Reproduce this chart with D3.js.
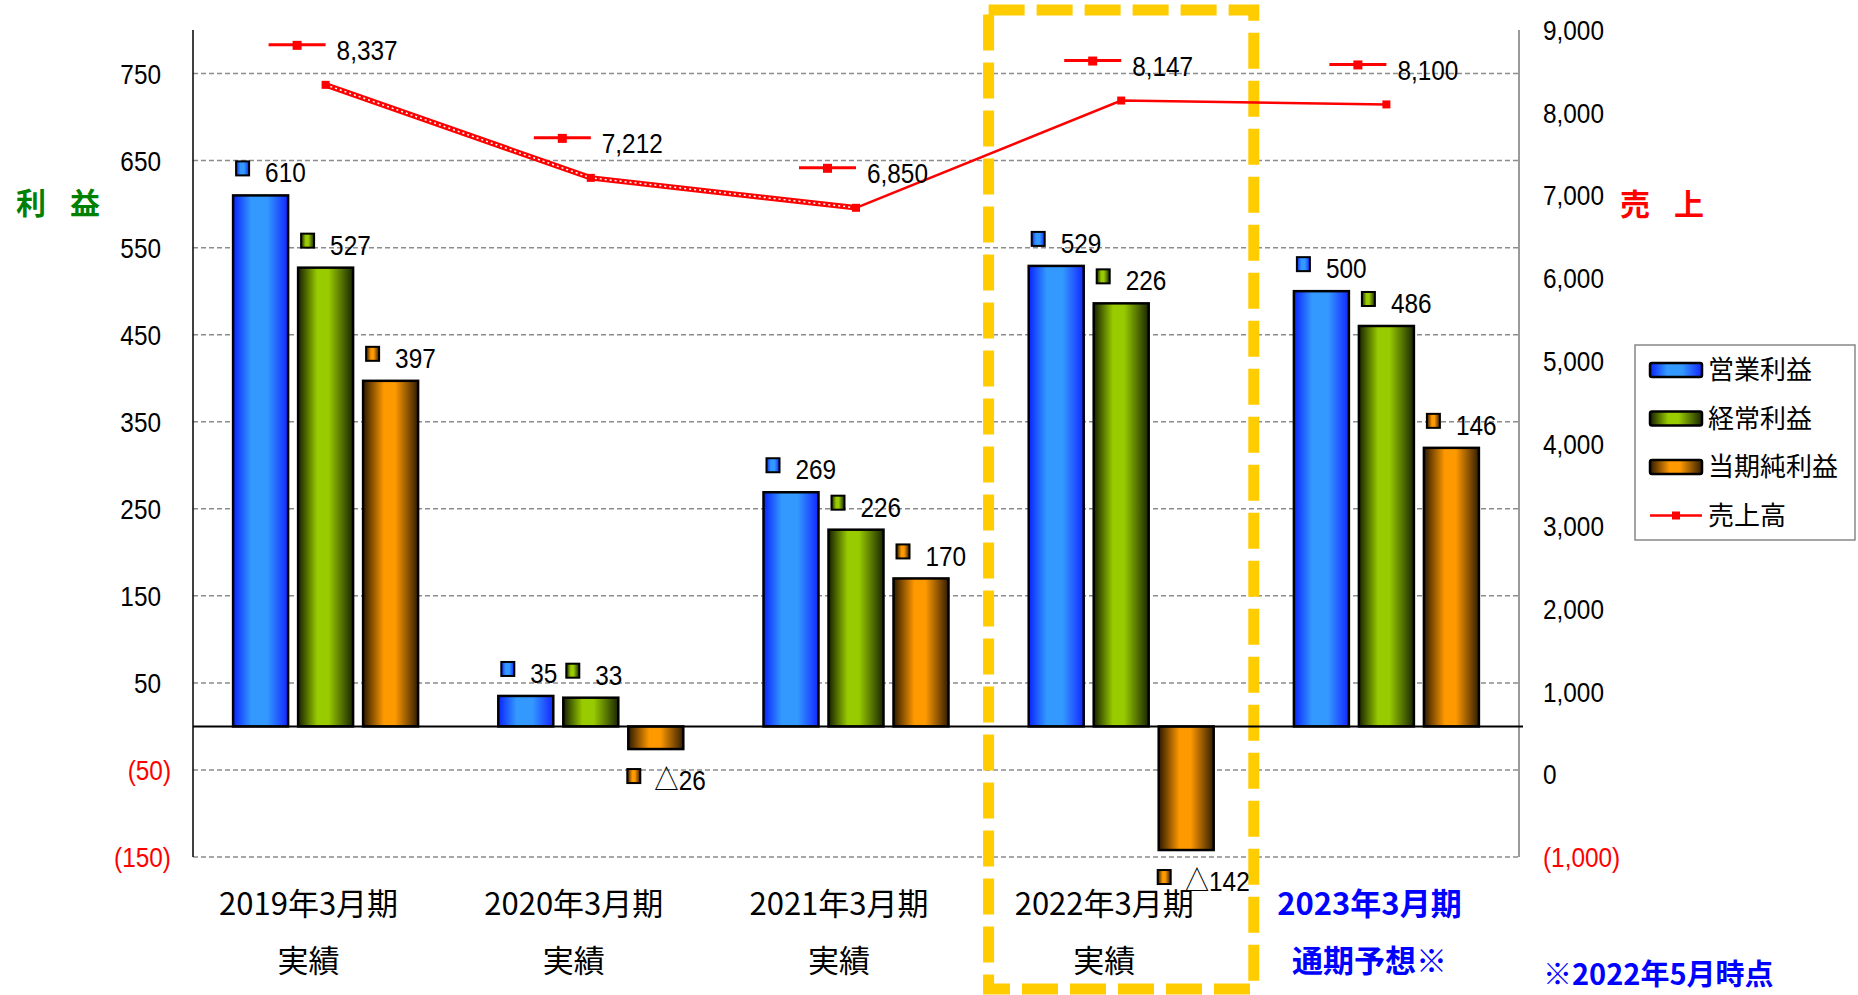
<!DOCTYPE html>
<html>
<head>
<meta charset="utf-8">
<script src="https://cdn.jsdelivr.net/npm/d3@7"></script>
<style>
  body { margin: 0; background: #fff; }
  text { font-family: "Liberation Sans", "Noto Sans CJK JP", sans-serif; }
  .jp { font-family: "Noto Sans CJK JP", sans-serif; }
</style>
</head>
<body>
<svg id="chart" width="1858" height="995"></svg>
<script>
const periods = ["2019年3月期", "2020年3月期", "2021年3月期", "2022年3月期", "2023年3月期"];
const periodNotes = ["実績", "実績", "実績", "実績", "通期予想※"];

// bars (left axis, 利益)
const operatingProfit = [610, 35, 269, 529, 500];
const ordinaryProfit = [527, 33, 226, 486, 460];
const netProfit = [397, -26, 170, -142, 320];
// labels as printed on the chart
const operatingLabels = ["610", "35", "269", "529", "500"];
const ordinaryLabels = ["527", "33", "226", "226", "486"];
const netLabels = ["397", "△26", "170", "△142", "146"];

// line (right axis, 売上)
const sales = [8337, 7212, 6850, 8147, 8100];
const salesLabels = ["8,337", "7,212", "6,850", "8,147", "8,100"];

const profitTicks = [-150, -50, 50, 150, 250, 350, 450, 550, 650, 750];
const salesTicks = [-1000, 0, 1000, 2000, 3000, 4000, 5000, 6000, 7000, 8000, 9000];
const seriesNames = ["営業利益", "経常利益", "当期純利益", "売上高"];

const svg = d3.select("#chart");

const x = d3.scaleBand().domain(periods).range([193, 1519]);
const sub = d3.scaleBand().domain([0, 1, 2]).range([-92.5, 92.5]).paddingInner(10 / 65);
const yL = d3.scaleLinear().domain([-150, 800]).range([857, 30]);
const yR = d3.scaleLinear().domain([-1000, 9000]).range([857, 30]);

const numSize = 28;

// gradients for the bars
const defs = svg.append("defs");
const grads = [
  { id: "gBlue", stops: [[0, "#0a24ff"], [0.33, "#3399ff"], [0.62, "#3399ff"], [1, "#1426ff"]] },
  { id: "gGreen", stops: [[0, "#162000"], [0.35, "#99cc00"], [0.55, "#99cc00"], [1, "#1a2600"]] },
  { id: "gOrange", stops: [[0, "#2e1900"], [0.38, "#ff9900"], [0.58, "#ff9900"], [1, "#331d00"]] }
];
grads.forEach(function(g) {
  const lg = defs.append("linearGradient")
    .attr("id", g.id)
    .attr("x1", 0).attr("x2", 1).attr("y1", 0).attr("y2", 0);
  g.stops.forEach(function(s) {
    lg.append("stop").attr("offset", s[0]).attr("stop-color", s[1]);
  });
});

// gridlines
svg.append("g")
  .selectAll("line")
  .data(profitTicks)
  .join("line")
  .attr("x1", 193)
  .attr("x2", 1519)
  .attr("y1", function(d) { return yL(d); })
  .attr("y2", function(d) { return yL(d); })
  .attr("stroke", "#8c8c8c")
  .attr("stroke-width", 1.5)
  .attr("stroke-dasharray", "5 3");

// axes lines
svg.append("line")
  .attr("x1", 193).attr("x2", 193)
  .attr("y1", 30).attr("y2", 857)
  .attr("stroke", "#000").attr("stroke-width", 1.5);
svg.append("line")
  .attr("x1", 1519).attr("x2", 1519)
  .attr("y1", 30).attr("y2", 857)
  .attr("stroke", "#9a9a9a").attr("stroke-width", 2);

// left tick labels
svg.append("g")
  .selectAll("text")
  .data(profitTicks)
  .join("text")
  .attr("class", "num")
  .attr("x", function(d) { return d < 0 ? 171 : 161; })
  .attr("y", function(d) { return yL(d); })
  .attr("dy", "0.36em")
  .attr("text-anchor", "end")
  .attr("font-size", numSize)
  .attr("fill", function(d) { return d < 0 ? "#ff0000" : "#000"; })
  .text(function(d) { return d < 0 ? "(" + (-d) + ")" : d; });

// right tick labels
const fmt = d3.format(",");
svg.append("g")
  .selectAll("text")
  .data(salesTicks)
  .join("text")
  .attr("class", "num")
  .attr("x", 1543)
  .attr("y", function(d) { return yR(d); })
  .attr("dy", "0.36em")
  .attr("font-size", numSize)
  .attr("fill", function(d) { return d < 0 ? "#ff0000" : "#000"; })
  .text(function(d) { return d < 0 ? "(" + fmt(-d) + ")" : fmt(d); });

// axis titles
svg.append("text")
  .attr("class", "jp")
  .attr("x", 16).attr("y", 203).attr("dy", "0.36em")
  .attr("font-size", 30).attr("font-weight", "bold")
  .attr("letter-spacing", 24)
  .attr("fill", "#008000")
  .text("利益");
svg.append("text")
  .attr("class", "jp")
  .attr("x", 1620).attr("y", 204).attr("dy", "0.36em")
  .attr("font-size", 30).attr("font-weight", "bold")
  .attr("letter-spacing", 24)
  .attr("fill", "#ff0000")
  .text("売上");

// yellow dashed frame around 2022
svg.append("rect")
  .attr("x", x(periods[3]))
  .attr("y", 10)
  .attr("width", x.bandwidth())
  .attr("height", 979)
  .attr("fill", "none")
  .attr("stroke", "#ffcc00")
  .attr("stroke-width", 11)
  .attr("stroke-dasharray", "36 12");

// bars
const series = [
  { values: operatingProfit, labels: operatingLabels, fill: "url(#gBlue)" },
  { values: ordinaryProfit, labels: ordinaryLabels, fill: "url(#gGreen)" },
  { values: netProfit, labels: netLabels, fill: "url(#gOrange)" }
];

function barLeft(i, s) {
  return x(periods[i]) + x.bandwidth() / 2 + sub(s);
}

series.forEach(function(ser, s) {
  const g = svg.append("g");
  g.selectAll("rect")
    .data(ser.values)
    .join("rect")
    .attr("x", function(d, i) { return barLeft(i, s); })
    .attr("width", sub.bandwidth())
    .attr("y", function(d) { return yL(Math.max(0, d)); })
    .attr("height", function(d) { return Math.abs(yL(d) - yL(0)); })
    .attr("fill", ser.fill)
    .attr("stroke", "#000")
    .attr("stroke-width", 2.5);

  // little key squares + value text
  const lab = svg.append("g")
    .selectAll("g")
    .data(ser.values)
    .join("g")
    .attr("transform", function(d, i) {
      const bx = barLeft(i, s);
      const ty = d >= 0 ? yL(d) - 34 : yL(d) + 20;
      return `translate(${d >= 0 ? bx + 3 : bx - 1},${ty})`;
    });
  lab.append("rect")
    .attr("width", 13).attr("height", 14)
    .attr("fill", ser.fill)
    .attr("stroke", "#000")
    .attr("stroke-width", 2);
  lab.append("text")
    .attr("class", "num")
    .attr("x", function(d) { return d >= 0 ? 29 : 27; })
    .attr("y", 11)
    .attr("dy", "0.36em")
    .attr("font-size", numSize)
    .text(function(d, i) { return ser.labels[i]; });
});

// zero line
svg.append("line")
  .attr("x1", 193).attr("x2", 1523)
  .attr("y1", yL(0)).attr("y2", yL(0))
  .attr("stroke", "#000").attr("stroke-width", 2);

// sales line
const pts = sales.map(function(d, i) {
  return [x(periods[i]) + x.bandwidth() / 2, yR(d)];
});
const line = d3.line();
svg.append("path")
  .attr("d", line(pts.slice(0, 3)))
  .attr("fill", "none")
  .attr("stroke", "#ff0000")
  .attr("stroke-width", 5.5);
svg.append("path")
  .attr("d", line(pts.slice(0, 3)))
  .attr("fill", "none")
  .attr("stroke", "#fff")
  .attr("stroke-width", 1.5)
  .attr("stroke-dasharray", "2 3");
svg.append("path")
  .attr("d", line(pts.slice(2)))
  .attr("fill", "none")
  .attr("stroke", "#ff0000")
  .attr("stroke-width", 2.5);
svg.append("g")
  .selectAll("rect")
  .data(pts)
  .join("rect")
  .attr("x", function(d) { return d[0] - 4; })
  .attr("y", function(d) { return d[1] - 4; })
  .attr("width", 8).attr("height", 8)
  .attr("fill", "#ff0000");

// sales labels with line key
const sl = svg.append("g")
  .selectAll("g")
  .data(pts)
  .join("g")
  .attr("transform", function(d) { return `translate(${d[0] - 57},${d[1] - 40})`; });
sl.append("line")
  .attr("x1", 0).attr("x2", 57)
  .attr("stroke", "#ff0000").attr("stroke-width", 3);
sl.append("rect")
  .attr("x", 24).attr("y", -4)
  .attr("width", 9).attr("height", 9)
  .attr("fill", "#ff0000");
sl.append("text")
  .attr("class", "num")
  .attr("x", 68)
  .attr("y", 5)
  .attr("dy", "0.36em")
  .attr("font-size", numSize)
  .text(function(d, i) { return salesLabels[i]; });

// squeeze number glyphs a bit, the original font is a narrow gothic
d3.selectAll(".num").each(function() {
  const w = this.getComputedTextLength();
  d3.select(this)
    .attr("textLength", w * 0.87)
    .attr("lengthAdjust", "spacingAndGlyphs");
});

// category labels
const cat = svg.append("g")
  .selectAll("g")
  .data(periods)
  .join("g")
  .attr("transform", function(d) { return `translate(${x(d) + x.bandwidth() / 2 - 17},0)`; });
cat.append("text")
  .attr("class", "jp")
  .attr("y", 904).attr("dy", "0.36em")
  .attr("text-anchor", "middle")
  .attr("font-size", 31)
  .attr("font-weight", function(d, i) { return i === 4 ? "bold" : "normal"; })
  .attr("fill", function(d, i) { return i === 4 ? "#0000ff" : "#000"; })
  .text(function(d) { return d; });
cat.append("text")
  .attr("class", "jp")
  .attr("y", 961).attr("dy", "0.36em")
  .attr("text-anchor", "middle")
  .attr("font-size", 31)
  .attr("font-weight", function(d, i) { return i === 4 ? "bold" : "normal"; })
  .attr("fill", function(d, i) { return i === 4 ? "#0000ff" : "#000"; })
  .text(function(d, i) { return periodNotes[i]; });

svg.append("text")
  .attr("class", "jp")
  .attr("x", 1543).attr("y", 975).attr("dy", "0.36em")
  .attr("font-size", 29).attr("font-weight", "bold")
  .attr("fill", "#0000ff")
  .text("※2022年5月時点");

// legend
const legend = svg.append("g").attr("transform", "translate(1635,345)");
legend.append("rect")
  .attr("width", 220).attr("height", 195)
  .attr("fill", "#fff")
  .attr("stroke", "#888").attr("stroke-width", 1.5);
const items = legend.selectAll("g")
  .data(seriesNames)
  .join("g")
  .attr("transform", function(d, i) { return `translate(15,${25 + i * 48.5})`; });
items.filter(function(d, i) { return i < 3; })
  .append("rect")
  .attr("y", -7).attr("width", 52).attr("height", 14)
  .attr("rx", 2)
  .attr("fill", function(d, i) { return series[i].fill; })
  .attr("stroke", "#000").attr("stroke-width", 2.5);
const lineItem = items.filter(function(d, i) { return i === 3; });
lineItem.append("line")
  .attr("x1", 0).attr("x2", 52)
  .attr("stroke", "#ff0000").attr("stroke-width", 2.5);
lineItem.append("rect")
  .attr("x", 22).attr("y", -4)
  .attr("width", 8).attr("height", 8)
  .attr("fill", "#ff0000");
items.append("text")
  .attr("class", "jp")
  .attr("x", 58)
  .attr("dy", "0.36em")
  .attr("font-size", 26)
  .text(function(d) { return d; });
</script>
</body>
</html>
